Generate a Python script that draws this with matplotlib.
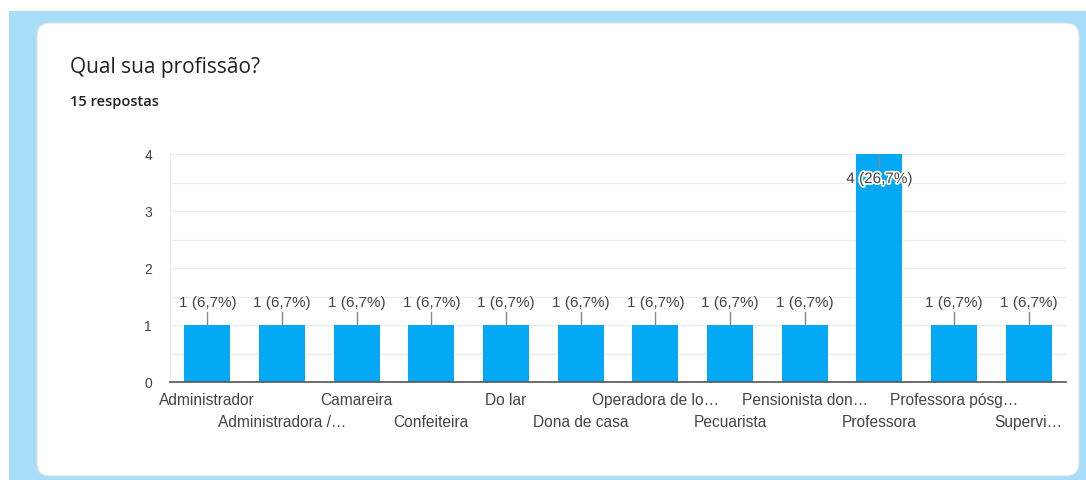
import matplotlib.pyplot as plt
import matplotlib.patheffects as pe
import numpy as np
from matplotlib.patches import Rectangle, FancyBboxPatch

W, H = 1086, 481

categorias = ['Administrador', 'Administradora /…', 'Camareira', 'Confeiteira',
              'Do lar', 'Dona de casa', 'Operadora de lo…', 'Pecuarista',
              'Pensionista don…', 'Professora', 'Professora pósg…', 'Supervi…']
respostas = [1, 1, 1, 1, 1, 1, 1, 1, 1, 4, 1, 1]
rotulos = ['1 (6,7%)'] * 9 + ['4 (26,7%)'] + ['1 (6,7%)'] * 2
total = 15

fig = plt.figure(figsize=(W / 100, H / 100), dpi=100)
fig.patch.set_facecolor('white')


def px(x, y):
    return x / W, 1 - y / H


# fundo azul + cartão branco
fig.patches.append(Rectangle(px(9, 481), (W - 9) / W, (481 - 12) / H,
                             transform=fig.transFigure, facecolor='#a8ddf9',
                             edgecolor='none', zorder=0))
fig.patches.append(FancyBboxPatch(px(37, 477), (1079 - 37) / W, (477 - 24) / H,
                                  boxstyle='round,pad=0,rounding_size=0.012',
                                  transform=fig.transFigure, facecolor='white',
                                  edgecolor='#e0e0e0', linewidth=0.8, zorder=1,
                                  mutation_aspect=W / H))

fig.text(70 / W, 1 - 68 / H, 'Qual sua profissão?', fontsize=15, family='Open Sans',
         color='#202124', va='center', ha='left')
fig.text(70 / W, 1 - 102 / H, f'{total} respostas', fontsize=10.5, family='Open Sans',
         fontweight='semibold', color='#202124', va='center', ha='left')

x0, x1, y0, y1 = 170, 1066, 155, 383
ax = fig.add_axes([x0 / W, 1 - y1 / H, (x1 - x0) / W, (y1 - y0) / H])
ax.set_facecolor('none')
ax.set_zorder(2)

x = np.arange(len(categorias))
ax.bar(x, respostas, width=0.62, color='#03a9f4', zorder=2)
ax.set_xlim(-0.5, len(categorias) - 0.5)
ax.set_ylim(0, 4)

ax.set_yticks([0, 1, 2, 3, 4])
ax.set_yticks(np.arange(0.5, 4, 1), minor=True)
ax.grid(True, axis='y', which='both', color='#ececec', linewidth=1, zorder=0)
ax.tick_params(axis='y', which='both', length=0, pad=13, labelsize=10,
               labelcolor='#444444')
ax.set_yticklabels(['0', '1', '2', '3', '4'], family='Liberation Sans')

for s in ['top', 'right']:
    ax.spines[s].set_visible(False)
ax.spines['left'].set_color('#ececec')
ax.spines['bottom'].set_color('#555555')
ax.spines['bottom'].set_linewidth(1.2)
ax.spines['bottom'].set_zorder(3)

ax.set_xticks(x)
ax.set_xticklabels([])
ax.tick_params(axis='x', length=0)
for i, c in enumerate(categorias):
    off = 18 if i % 2 == 0 else 40
    ax.annotate(c, (i, 0), xytext=(0, -off), textcoords='offset pixels',
                ha='center', va='center', fontsize=11.2, color='#444444',
                family='Liberation Sans', annotation_clip=False)

for i, (v, r) in enumerate(zip(respostas, rotulos)):
    if v < 4:
        ax.plot([i, i], [v, v + 0.23], color='#888888', linewidth=1, zorder=3)
        ax.text(i, v + 0.40, r, ha='center', va='center', fontsize=11,
                color='#444444', family='Liberation Sans', zorder=4)
    else:
        ax.plot([i, i], [v, v - 0.25], color='#888888', linewidth=1, zorder=3)
        t = ax.text(i, v - 0.44, r, ha='center', va='center', fontsize=11,
                    color='#444444', family='Liberation Sans', zorder=4)
        t.set_path_effects([pe.withStroke(linewidth=2.5, foreground='white')])

fig.savefig('out.png', dpi=100)
